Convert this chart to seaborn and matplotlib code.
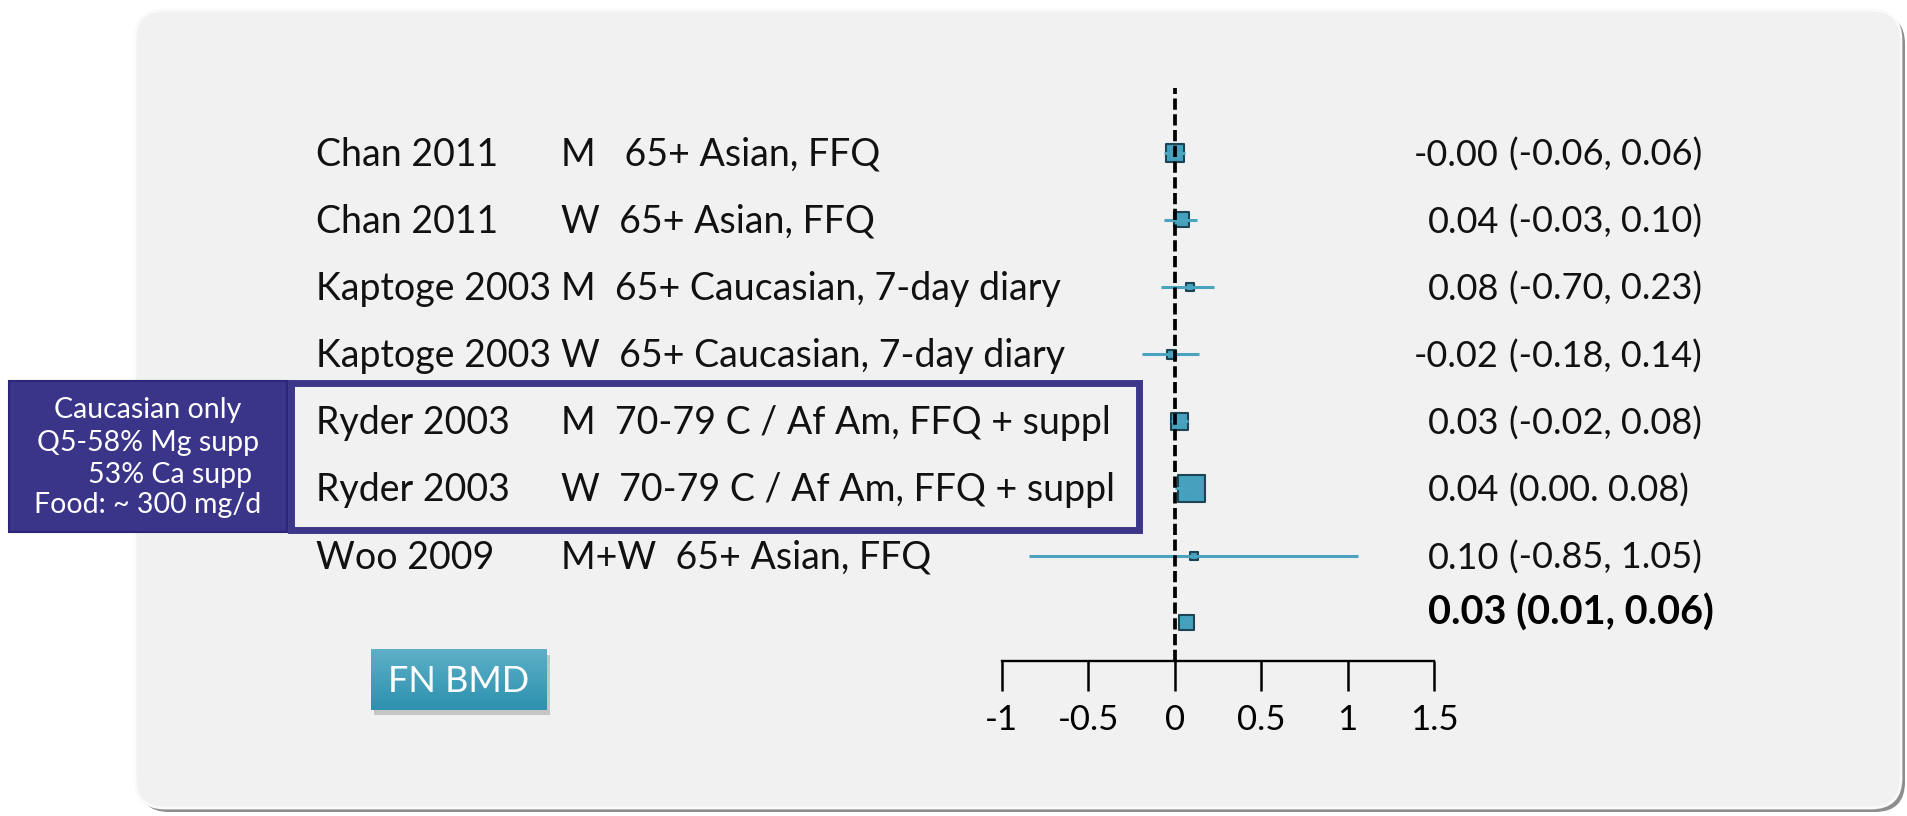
import matplotlib
matplotlib.use("Agg")
import numpy as np
import matplotlib.pyplot as plt
import matplotlib.transforms as mtransforms
from matplotlib.patches import FancyBboxPatch, Rectangle
from matplotlib.colors import LinearSegmentedColormap
import seaborn as sns

# Data
studies = ["Chan 2011", "Chan 2011", "Kaptoge 2003", "Kaptoge 2003",
           "Ryder 2003", "Ryder 2003", "Woo 2009"]
groups = ["M   65+ Asian, FFQ", "W  65+ Asian, FFQ",
          "M  65+ Caucasian, 7-day diary", "W  65+ Caucasian, 7-day diary",
          "M  70-79 C / Af Am, FFQ + suppl", "W  70-79 C / Af Am, FFQ + suppl",
          "M+W  65+ Asian, FFQ"]
# marker centres and whiskers as drawn (last = pooled estimate)
est_plot = [0.00, 0.04, 0.09, -0.02, 0.03, 0.095, 0.11, 0.07]
ci_low = [-0.06, -0.06, -0.08, -0.19, -0.02, 0.00, -0.84, 0.01]
ci_high = [0.06, 0.13, 0.23, 0.14, 0.08, 0.08, 1.06, 0.06]
box_weight = [20, 17, 10, 11, 19, 29, 10, 17]
est_text = ["-0.00", "0.04", "0.08", "-0.02", "0.03", "0.04", "0.10", "0.03"]
ci_text = ["(-0.06, 0.06)", "(-0.03, 0.10)", "(-0.70, 0.23)", "(-0.18, 0.14)",
           "(-0.02, 0.08)", "(0.00. 0.08)", "(-0.85, 1.05)", "(0.01, 0.06)"]
ticks = [-1, -0.5, 0, 0.5, 1, 1.5]
tick_labels = ["-1", "-0.5", "0", "0.5", "1", "1.5"]
note_lines = ["Caucasian only", "Q5-58% Mg supp", "53% Ca supp", "Food: ~ 300 mg/d"]
outcome = "FN BMD"

sns.set_theme(style="white")
plt.rcParams["font.family"] = ["Lato", "DejaVu Sans"]
plt.rcParams["axes.unicode_minus"] = False

W, H = 1907, 816
fig = plt.figure(figsize=(W / 100, H / 100), dpi=100)
fig.patch.set_facecolor("white")
# pixel coordinates, origin top-left
px = mtransforms.Affine2D().scale(1 / 100, -1 / 100).translate(0, H / 100) + fig.dpi_scale_trans

# slide panel with shadow
fig.add_artist(FancyBboxPatch((139, 14), 1766, 798, boxstyle="round,pad=0,rounding_size=30",
                              transform=px, fc="#8d8d8d", ec="none", zorder=-10))
fig.add_artist(FancyBboxPatch((135, 10), 1766, 798, boxstyle="round,pad=0,rounding_size=30",
                              transform=px, fc="#f1f1f1", ec="#fafafa", lw=2, zorder=-9))

# forest plot axes
ax = fig.add_axes([1001.7 / W, 1 - 661 / H, (1434 - 1001.7) / W, (661 - 88) / H])
ax.patch.set_visible(False)
rows = np.arange(len(est_plot))
ax.set_xlim(-1, 1.5)
ax.set_ylim(7.571, -0.964)

sizes = [((b - 2) * 0.72) ** 2 for b in box_weight]
sns.scatterplot(x=est_plot, y=rows, s=sizes, marker="s", color="#45a1bd",
                edgecolor="#1c4453", linewidth=1.5, ax=ax, legend=False, zorder=2)
ax.hlines(rows[:-1], ci_low[:-1], ci_high[:-1], color="#4aa3bf", lw=2.2, zorder=3)
ax.axvline(0, color="black", lw=2.7, ls=(0, (3, 1.2)), zorder=5)

for s in ["top", "left", "right"]:
    ax.spines[s].set_visible(False)
ax.spines["bottom"].set_color("black")
ax.spines["bottom"].set_linewidth(1.7)
ax.set_yticks([])
ax.set_xticks(ticks)
ax.set_xticklabels(tick_labels)
ax.tick_params(axis="x", bottom=True, direction="out", length=21.6, width=1.8, pad=9.5,
               labelsize=25, colors="black")
ax.grid(False)

# row labels and numbers
tr = mtransforms.blended_transform_factory(px, ax.transData)
for i, (st, gr) in enumerate(zip(studies, groups)):
    ax.text(316, i + 0.194, st, transform=tr, ha="left", va="baseline", fontsize=27, color="#111111")
    ax.text(561, i + 0.194, gr, transform=tr, ha="left", va="baseline", fontsize=27, color="#111111")
for i in range(len(est_text) - 1):
    ax.text(1499, i + 0.194, est_text[i], transform=tr, ha="right", va="baseline", fontsize=26, color="#111111")
    ax.text(1509, i + 0.194, ci_text[i], transform=tr, ha="left", va="baseline", fontsize=26, color="#111111")
last = len(est_text) - 1
ax.text(1428, last + 0.034, est_text[last] + " " + ci_text[last], transform=tr, ha="left",
        va="baseline", fontsize=28.5, fontweight="bold", color="black")

# side note box and highlight outline
fig.add_artist(Rectangle((9, 381), 278, 151, transform=px, fc="#3b358a", ec="#2b2677", lw=1.5, zorder=1))
note_x = [148, 148, 170, 148]
note_y = [407.7, 440.7, 472.7, 503]
for line, x, y in zip(note_lines, note_x, note_y):
    fig.text(x, y + 10, line, transform=px, ha="center", va="baseline", fontsize=20.5, color="white", zorder=2)
fig.add_artist(Rectangle((291, 383), 848, 147, transform=px, fc="none", ec="#3d3789", lw=5, zorder=1))

# outcome button
fig.add_artist(Rectangle((374, 655), 176, 60, transform=px, fc="#9a9a9a", ec="none", alpha=0.5, zorder=-1))
bax = fig.add_axes([371 / W, 1 - 710 / H, 176 / W, 61 / H])
grad = LinearSegmentedColormap.from_list("btn", ["#5eb0c7", "#2d91af"])
bax.imshow(np.linspace(0, 1, 64)[:, None], aspect="auto", cmap=grad, extent=(0, 1, 0, 1))
bax.axis("off")
bax.text(0.5, 0.29, outcome, transform=bax.transAxes, ha="center", va="baseline",
         fontsize=26, color="white")

fig.savefig("out.png", dpi=100, facecolor="white")
